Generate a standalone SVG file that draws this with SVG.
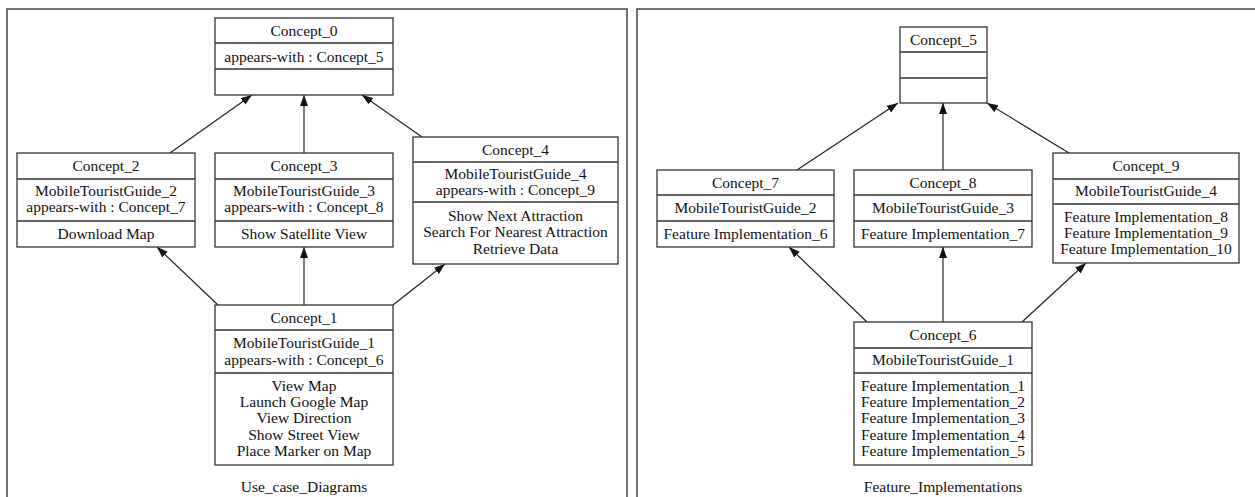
<svg xmlns="http://www.w3.org/2000/svg" width="1255" height="497" viewBox="0 0 1255 497">
<style>
  .panel { fill: none; stroke: #444; stroke-width: 1.5; }
  .box rect { fill: #fff; stroke: #333; stroke-width: 1.3; }
  .box line { stroke: #333; stroke-width: 1.3; }
  text { font-family: "Liberation Serif", "Times New Roman", serif; font-size: 15.5px; fill: #111; text-anchor: middle; }
  .edge { stroke: #222; stroke-width: 1.2; fill: none; marker-end: url(#arrow); }
</style>
<defs>
  <marker id="arrow" markerUnits="userSpaceOnUse" markerWidth="12" markerHeight="9" refX="11" refY="4" orient="auto">
    <path d="M0,0 L11,4 L0,8 z" fill="#111"/>
  </marker>
</defs>
<rect width="1255" height="497" fill="#fff"/>

<g id="panel-left">
  <rect class="panel" x="7" y="9" width="620" height="500"/>
  <text x="304" y="492">Use_case_Diagrams</text>
</g>
<g id="panel-right">
  <rect class="panel" x="637" y="9" width="640" height="500"/>
  <text x="943" y="492">Feature_Implementations</text>
</g>

<g id="connectors">
  <line class="edge" x1="170" y1="153" x2="252" y2="95"/>
  <line class="edge" x1="304" y1="153" x2="304" y2="95"/>
  <line class="edge" x1="422" y1="137" x2="362" y2="95"/>
  <line class="edge" x1="218" y1="305" x2="157" y2="247"/>
  <line class="edge" x1="304" y1="305" x2="304" y2="247"/>
  <line class="edge" x1="393" y1="305" x2="445" y2="264"/>
  <line class="edge" x1="797" y1="170" x2="898" y2="103"/>
  <line class="edge" x1="943" y1="170" x2="943" y2="103"/>
  <line class="edge" x1="1069" y1="153" x2="987" y2="103"/>
  <line class="edge" x1="867" y1="322" x2="789" y2="247"/>
  <line class="edge" x1="943" y1="322" x2="943" y2="247"/>
  <line class="edge" x1="1022" y1="322" x2="1086" y2="263"/>
</g>

<g id="concept_0" class="box">
  <rect x="215" y="18" width="178" height="77"/>
  <line x1="215" y1="43" x2="393" y2="43"/>
  <line x1="215" y1="69" x2="393" y2="69"/>
  <text x="304" y="36">Concept_0</text>
  <text x="304" y="62">appears-with : Concept_5</text>
</g>

<g id="concept_2" class="box">
  <rect x="17" y="153" width="178" height="94"/>
  <line x1="17" y1="179" x2="195" y2="179"/>
  <line x1="17" y1="221" x2="195" y2="221"/>
  <text x="106" y="171">Concept_2</text>
  <text x="106" y="196">MobileTouristGuide_2</text>
  <text x="106" y="212">appears-with : Concept_7</text>
  <text x="106" y="239">Download Map</text>
</g>

<g id="concept_3" class="box">
  <rect x="215" y="153" width="178" height="94"/>
  <line x1="215" y1="179" x2="393" y2="179"/>
  <line x1="215" y1="221" x2="393" y2="221"/>
  <text x="304" y="171">Concept_3</text>
  <text x="304" y="196">MobileTouristGuide_3</text>
  <text x="304" y="212">appears-with : Concept_8</text>
  <text x="304" y="239">Show Satellite View</text>
</g>

<g id="concept_4" class="box">
  <rect x="413" y="137" width="205" height="127"/>
  <line x1="413" y1="162" x2="618" y2="162"/>
  <line x1="413" y1="202" x2="618" y2="202"/>
  <text x="515.5" y="155">Concept_4</text>
  <text x="515.5" y="179">MobileTouristGuide_4</text>
  <text x="515.5" y="195">appears-with : Concept_9</text>
  <text x="515.5" y="221">Show Next Attraction</text>
  <text x="515.5" y="237">Search For Nearest Attraction</text>
  <text x="515.5" y="254">Retrieve Data</text>
</g>

<g id="concept_1" class="box">
  <rect x="215" y="305" width="178" height="160"/>
  <line x1="215" y1="330" x2="393" y2="330"/>
  <line x1="215" y1="373" x2="393" y2="373"/>
  <text x="304" y="323">Concept_1</text>
  <text x="304" y="348">MobileTouristGuide_1</text>
  <text x="304" y="365">appears-with : Concept_6</text>
  <text x="304" y="391">View Map</text>
  <text x="304" y="407">Launch Google Map</text>
  <text x="304" y="423">View Direction</text>
  <text x="304" y="440">Show Street View</text>
  <text x="304" y="456">Place Marker on Map</text>
</g>

<g id="concept_5" class="box">
  <rect x="900" y="27" width="87" height="76"/>
  <line x1="900" y1="52" x2="987" y2="52"/>
  <line x1="900" y1="78" x2="987" y2="78"/>
  <text x="943.5" y="45">Concept_5</text>
</g>

<g id="concept_7" class="box">
  <rect x="657" y="170" width="177" height="77"/>
  <line x1="657" y1="195" x2="834" y2="195"/>
  <line x1="657" y1="221" x2="834" y2="221"/>
  <text x="745.5" y="188">Concept_7</text>
  <text x="745.5" y="213">MobileTouristGuide_2</text>
  <text x="745.5" y="239">Feature Implementation_6</text>
</g>

<g id="concept_8" class="box">
  <rect x="854" y="170" width="178" height="77"/>
  <line x1="854" y1="195" x2="1032" y2="195"/>
  <line x1="854" y1="221" x2="1032" y2="221"/>
  <text x="943" y="188">Concept_8</text>
  <text x="943" y="213">MobileTouristGuide_3</text>
  <text x="943" y="239">Feature Implementation_7</text>
</g>

<g id="concept_9" class="box">
  <rect x="1053" y="153" width="186" height="110"/>
  <line x1="1053" y1="179" x2="1239" y2="179"/>
  <line x1="1053" y1="204" x2="1239" y2="204"/>
  <text x="1146" y="171">Concept_9</text>
  <text x="1146" y="196">MobileTouristGuide_4</text>
  <text x="1146" y="222">Feature Implementation_8</text>
  <text x="1146" y="238">Feature Implementation_9</text>
  <text x="1146" y="254">Feature Implementation_10</text>
</g>

<g id="concept_6" class="box">
  <rect x="854" y="322" width="178" height="143"/>
  <line x1="854" y1="348" x2="1032" y2="348"/>
  <line x1="854" y1="373" x2="1032" y2="373"/>
  <text x="943" y="340">Concept_6</text>
  <text x="943" y="365">MobileTouristGuide_1</text>
  <text x="943" y="391">Feature Implementation_1</text>
  <text x="943" y="407">Feature Implementation_2</text>
  <text x="943" y="423">Feature Implementation_3</text>
  <text x="943" y="440">Feature Implementation_4</text>
  <text x="943" y="456">Feature Implementation_5</text>
</g>
</svg>
